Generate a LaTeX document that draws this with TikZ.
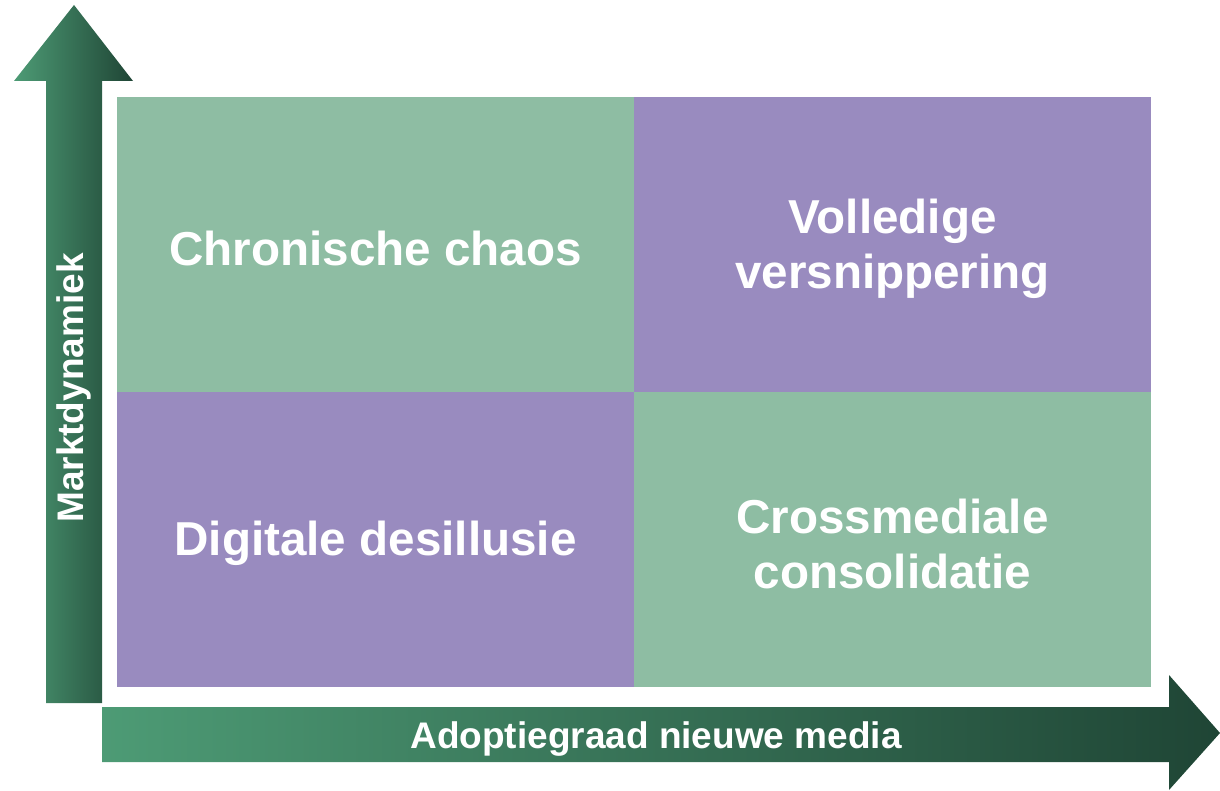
\documentclass[tikz,border=0pt]{standalone}
\usepackage{fontspec}
\setmainfont{Liberation Sans}
\definecolor{qgreen}{HTML}{8EBDA3}
\definecolor{qpurple}{HTML}{998BBF}
\definecolor{arrlight}{HTML}{4D9B75}
\definecolor{arrdark}{HTML}{1F4535}
\tikzset{
  quad/.style={minimum width=517pt, minimum height=295pt, inner sep=0pt, outer sep=0pt, anchor=north west},
  quadtext/.style={text=white, font=\fontsize{47.6}{55}\selectfont\bfseries, align=center, inner sep=0pt, yshift=-4pt},
  axistext/.style={text=white, font=\fontsize{37}{42}\selectfont\bfseries, inner sep=0pt},
  axisarrow/.style={left color=arrlight, right color=arrdark}
}
\begin{document}
\begin{tikzpicture}[x=1pt,y=-1pt]
\useasboundingbox (0,0) rectangle (1220,791);
% quadrants
\node[quad, fill=qgreen] (tl) at (117,97) {};
\node[quad, fill=qpurple] (tr) at (634,97) {};
\node[quad, fill=qpurple] (bl) at (117,392) {};
\node[quad, fill=qgreen] (br) at (634,392) {};
\node[quadtext] at (tl.center) {Chronische chaos};
\node[quadtext] at (tr.center) {Volledige\\versnippering};
\node[quadtext] at (bl.center) {Digitale desillusie};
\node[quadtext] at (br.center) {Crossmediale\\consolidatie};
% vertical arrow
\shade[axisarrow] (46,703) -- (46,81) -- (14,81) -- (74,5) -- (133,81) -- (102,81) -- (102,703) -- cycle;
% horizontal arrow
\shade[axisarrow] (102,707) -- (1169,707) -- (1169,675) -- (1220,733) -- (1169,790) -- (1169,762) -- (102,762) -- cycle;
\node[axistext, rotate=90] (ylab) at (74,388) {Marktdynamiek};
\node[axistext] (xlab) at (656,739) {Adoptiegraad nieuwe media};
\end{tikzpicture}
\end{document}
